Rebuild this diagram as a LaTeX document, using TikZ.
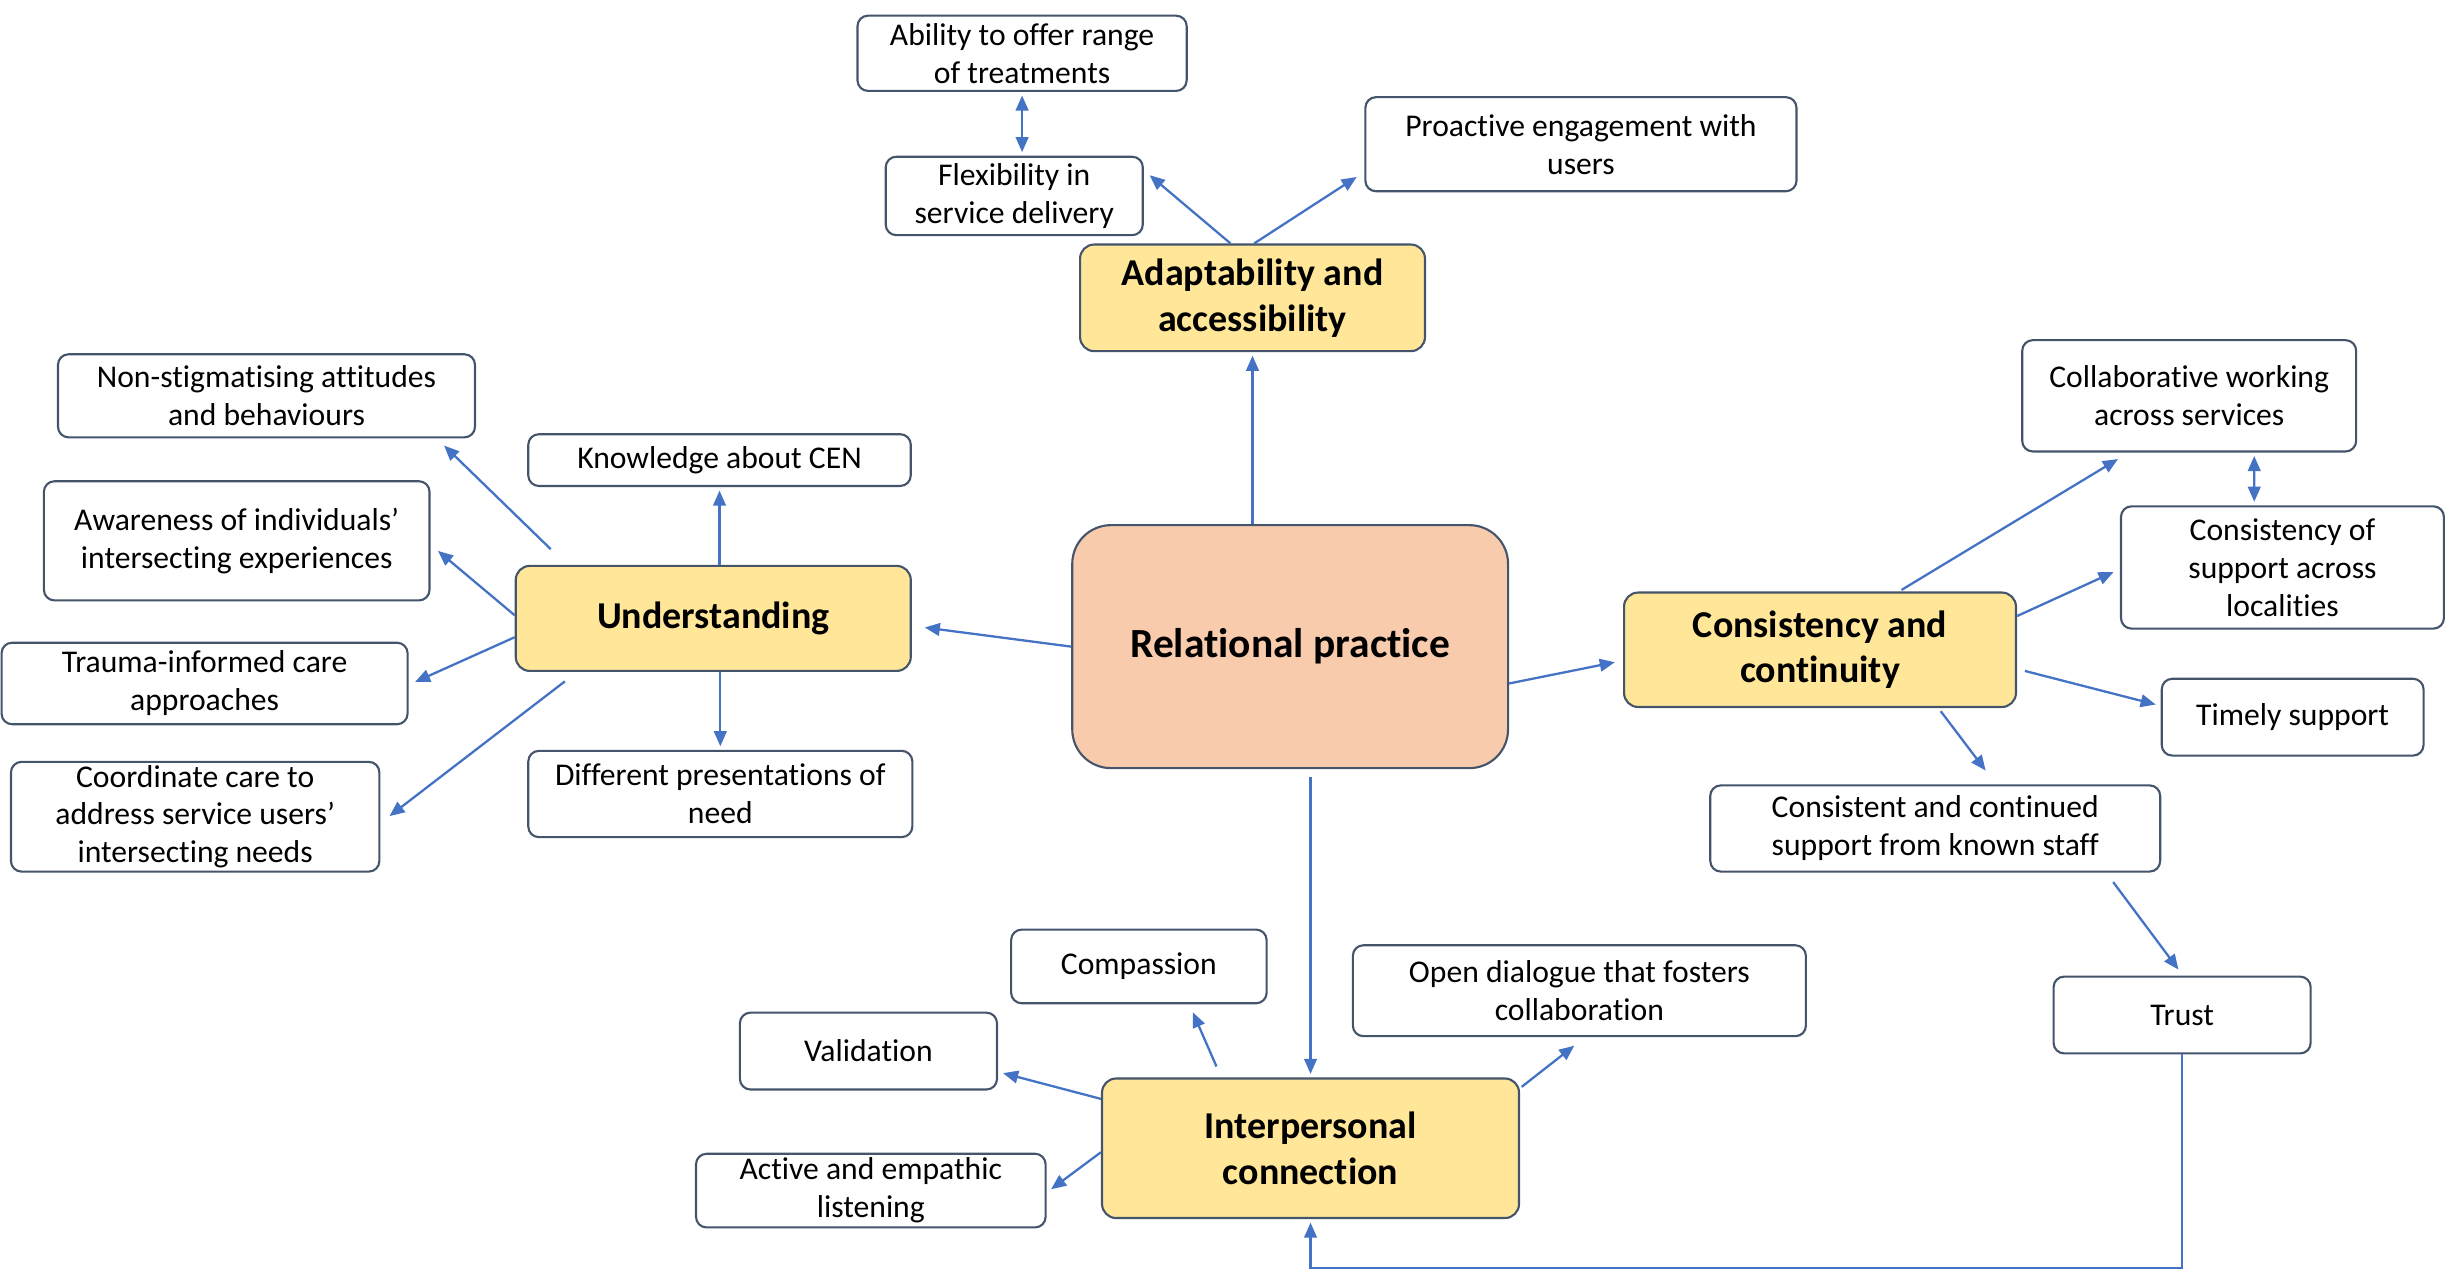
\documentclass[tikz,border=0pt]{standalone}
\usepackage{fontspec}
\setmainfont{Carlito}[Ligatures={TeX,NoCommon}]
\usetikzlibrary{calc,arrows.meta}

\definecolor{arrowblue}{RGB}{68,114,196}
\definecolor{boxline}{RGB}{68,84,106}
\definecolor{themefill}{RGB}{255,230,153}
\definecolor{corefill}{RGB}{248,203,173}
\newcommand{\upx}{0.15676mm}

\tikzset{
  item/.style={draw=boxline, line width=0.6pt, rounded corners=3pt, fill=white,
    align=center, inner sep=0pt, font=\fontsize{9}{10.8}\selectfont},
  theme/.style={item, fill=themefill, rounded corners=4pt,
    font=\bfseries\fontsize{10.8}{13}\selectfont},
  core/.style={item, fill=corefill, rounded corners=11pt,
    font=\bfseries\fontsize{11.8}{14}\selectfont},
  sz/.style 2 args={minimum width=#1*\upx, minimum height=#2*\upx},
  arr/.style={draw=arrowblue, line width=0.65pt,
    -{Triangle[length=4.3pt,width=3.6pt]}, shorten >=1pt},
  dbl/.style={arr, {Triangle[length=4.3pt,width=3.6pt]}-{Triangle[length=4.3pt,width=3.6pt]},
    shorten <=1pt},
}

\begin{document}
\begin{tikzpicture}[x=\upx,y=-\upx]
\useasboundingbox (0,0) rectangle (1568,818);

% centre and themes
\node[core, sz={278}{155}] (rel) at (823,412.5) {Relational practice};
\node[theme, sz={220}{68}] (adapt) at (799,190) {Adaptability and\\accessibility};
\node[theme, sz={252}{67}] (underst) at (455,394.5) {Understanding};
\node[theme, sz={250}{73}] (consist) at (1161,414.5) {Consistency and\\continuity};
\node[theme, sz={266}{89}] (inter) at (836,732.5) {Interpersonal\\connection};

% adaptability
\node[item, sz={210}{48}] (ability) at (652,34) {Ability to offer range\\of treatments};
\node[item, sz={164}{50}] (flex) at (647,125) {Flexibility in\\service delivery};
\node[item, sz={275}{60}] (proact) at (1008.5,92) {Proactive engagement with\\users};

% understanding
\node[item, sz={266}{53}] (nonstig) at (170,252.5) {Non-stigmatising attitudes\\and behaviours};
\node[item, sz={244}{33}] (knowl) at (459,293.5) {Knowledge about CEN};
\node[item, sz={246}{76}] (aware) at (151,345) {Awareness of individuals'\\intersecting experiences};
\node[item, sz={259}{52}] (trauma) at (130.5,436) {Trauma-informed care\\approaches};
\node[item, sz={235}{70}] (coord) at (124.5,521) {Coordinate care to\\address service users'\\intersecting needs};
\node[item, sz={245}{55}] (diffpres) at (459.5,506.5) {Different presentations of\\need};

% consistency
\node[item, sz={213}{71}] (collab) at (1396.5,252.5) {Collaborative working\\across services};
\node[item, sz={206}{78}] (consloc) at (1456,362) {Consistency of\\support across\\localities};
\node[item, sz={167}{49}] (timely) at (1462.5,457.5) {Timely support};
\node[item, sz={287}{55}] (contstaff) at (1234.5,528.5) {Consistent and continued\\support from known staff};
\node[item, sz={164}{49}] (trust) at (1392,647.5) {Trust};

% interpersonal
\node[item, sz={163}{47}] (compass) at (726.5,616.5) {Compassion};
\node[item, sz={289}{58}] (opendia) at (1007.5,632) {Open dialogue that fosters\\collaboration};
\node[item, sz={164}{49}] (valid) at (554,670.5) {Validation};
\node[item, sz={223}{47}] (listen) at (555.5,759.5) {Active and empathic\\listening};

% connectors
\draw[arr] (rel.north -| adapt.south) -- (adapt.south);
\draw[arr] ($(adapt.north)+(-14,0)$) -- ($(flex.north east)+(2,11)$);
\draw[arr] ($(adapt.north)+(1,0)$) -- ($(proact.south west)+(-3,-11)$);
\draw[dbl] ($(ability.south)$) -- (ability.south |- flex.north);

\draw[arr] ($(rel.west)+(0,0)$) -- ($(underst.east)+(6,5.5)$);
\draw[arr] (knowl.south |- underst.north) -- (knowl.south);
\draw[arr] (diffpres.north |- underst.south) -- (diffpres.north);
\draw[arr] ($(underst.north west)+(23,-10)$) -- ($(nonstig.south east)+(-22,3)$);
\draw[arr] ($(underst.west)+(0,-2)$) -- ($(aware.east)+(3,5)$);
\draw[arr] ($(underst.west)+(0,12)$) -- ($(trauma.east)+(2,0)$);
\draw[arr] ($(underst.south west)+(32,6)$) -- ($(coord.east)+(4,1)$);

\draw[arr] ($(rel.east)+(0,23.5)$) -- ($(consist.west)+(-3,7.5)$);
\draw[arr] ($(consist.north)+(52,-1)$) -- ($(collab.south)+(-43.5,3)$);
\draw[dbl] ($(collab.south)+(41.5,0)$) -- ($(consloc.north)+(-18,0)$);
\draw[arr] ($(consist.east)+(0,-21.5)$) -- ($(consloc.west)+(-2,2)$);
\draw[arr] ($(consist.east)+(5,13.5)$) -- ($(timely.west)+(-1,-7.5)$);
\draw[arr] ($(consist.south)+(77,2)$) -- ($(contstaff.north)+(33.5,-7)$);
\draw[arr] ($(contstaff.south)+(113.5,6)$) -- ($(trust.north)+(-1,-2)$);
\draw[arr] (trust.south) -- ++(0,136) -| (inter.south);

\draw[arr] ($(rel.south -| inter.north)+(0,5)$) -- (inter.north);
\draw[arr] ($(inter.north)+(-60,-7)$) -- ($(compass.south)+(33.5,3)$);
\draw[arr] ($(inter.west)+(0,-31.5)$) -- ($(valid.east)+(1,13.5)$);
\draw[arr] ($(inter.west)+(0,2.5)$) -- ($(listen.east)+(1,0.5)$);
\draw[arr] ($(inter.north east)+(1,6)$) -- ($(opendia.south)+(-1.5,4)$);
\end{tikzpicture}
\end{document}
